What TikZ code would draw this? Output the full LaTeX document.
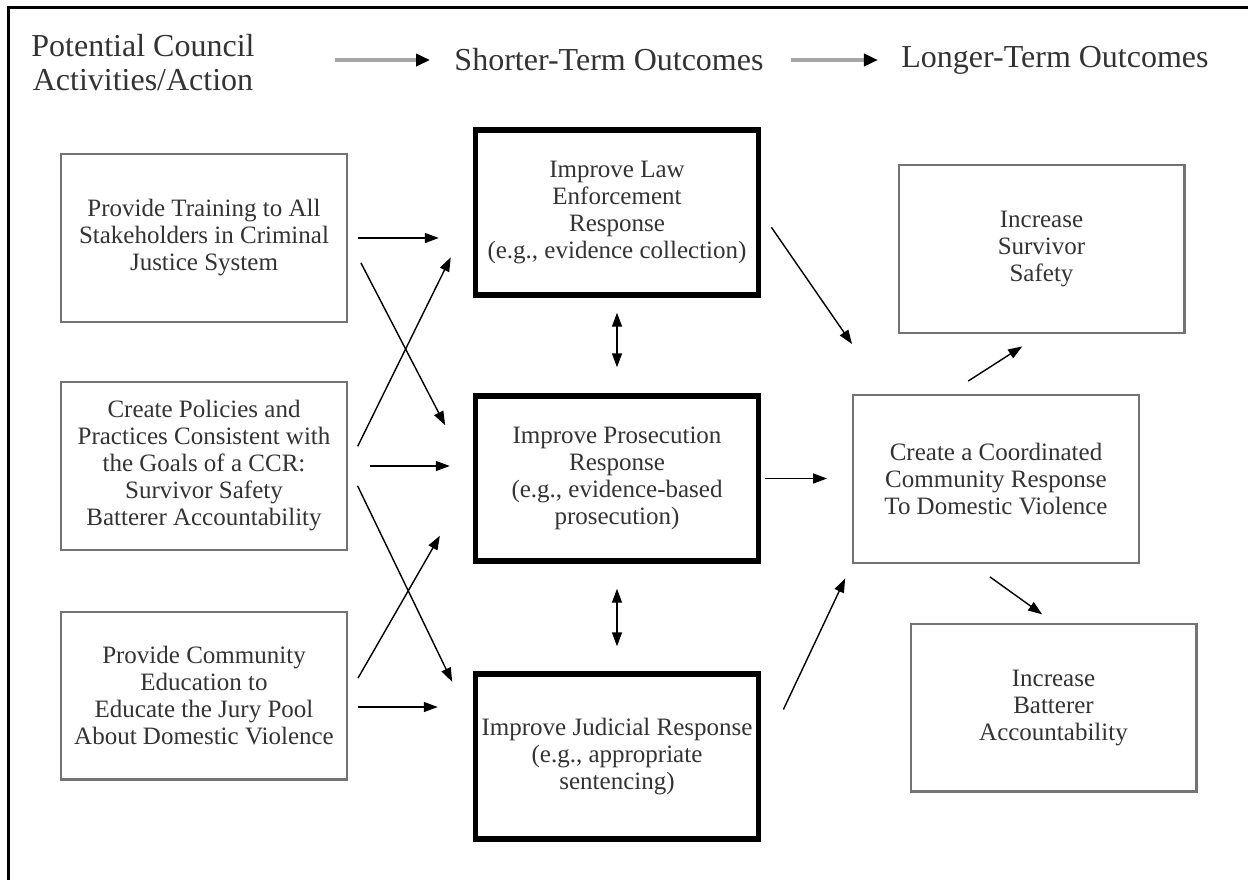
\documentclass[tikz,border=0pt]{standalone}
\usepackage{fontspec}
\setmainfont{Liberation Serif}
\usetikzlibrary{shapes,arrows.meta,calc}

\begin{document}
\begin{tikzpicture}[x=0.5pt,y=-0.5pt,
    block_plain/.style ={rectangle, draw=black!55, line width=1.2pt, fill=white,
      minimum width=142.8pt, minimum height=83.8pt, align=center, inner sep=2pt,
      text=black!80, font=\fontsize{12.5}{13.5}\selectfont},
    block_bold/.style ={block_plain, draw=black, line width=2.8pt,
      minimum width=141.4pt, minimum height=82.4pt},
    block_title/.style ={rectangle, draw=none, align=center, inner sep=0pt,
      text=black!80, font=\fontsize{16}{17}\selectfont},
    line/.style ={draw, line width=0.7pt, -{Triangle[length=7pt,width=5pt]}},
    line_both/.style ={line, {Triangle[length=7pt,width=5pt]}-{Triangle[length=7pt,width=5pt]}},
    line_title/.style ={draw=black!35, line width=2pt,
      -{Triangle[length=7pt,width=6pt,color=black]}}]
    \useasboundingbox (0,0) rectangle (1248,880);
    % frame
    \draw[line width=1.5pt] (8,880) -- (8,7) -- (1248,7);
    % column titles
    \node [block_title] (potential) at (143,63) {Potential Council\\Activities/Action};
    \node [block_title] (shorter) at (609,60) {Shorter-Term Outcomes};
    \node [block_title] (longer) at (1055,60) {Longer-Term Outcomes};
    % council activities
    \node [block_plain] (training) at (204,238) {Provide Training to All\\Stakeholders in Criminal\\Justice System};
    \node [block_plain] (policies) at (204,466) {Create Policies and\\Practices Consistent with\\the Goals of a CCR:\\Survivor Safety\\Batterer Accountability};
    \node [block_plain] (education) at (204,695.5) {Provide Community\\Education to\\Educate the Jury Pool\\About Domestic Violence};
    % shorter-term outcomes
    \node [block_bold] (law) at (617,212.5) {Improve Law\\Enforcement\\Response\\(e.g., evidence collection)};
    \node [block_bold] (prosecution) at (617,478.5) {Improve Prosecution\\Response\\(e.g., evidence-based\\prosecution)};
    \node [block_bold] (judicial) at (617,756.5) {Improve Judicial Response\\(e.g., appropriate\\sentencing)};
    % longer-term outcomes
    \node [block_plain] (ccr) at (996,479) {Create a Coordinated\\Community Response\\To Domestic Violence};
    \node [block_plain] (safety) at (1041.5,249) {Increase\\Survivor\\Safety};
    \node [block_plain] (accountability) at (1053.5,707.5) {Increase\\Batterer\\Accountability};
    % connecting nodes with paths
    \path[line_title, shorten <=40pt, shorten >=12pt] (shorter.west -| potential.east) -- (shorter.west);
    \path[line_title, shorten <=13.5pt, shorten >=11.5pt] (shorter.east) -- (longer.west);
    \begin{scope}[every path/.style=line]
      \path[shorten <=5pt, shorten >=17pt] (training.east) -- (training.east -| law.west);
      \path[shorten <=14pt, shorten >=30pt] (training.east) -- (prosecution.west);
      \path[shorten <=11pt, shorten >=25pt] (policies.east) -- (law.west);
      \path[shorten <=11pt, shorten >=11.5pt] (policies.east) -- (policies.east -| prosecution.west);
      \path[shorten <=11pt, shorten >=23.7pt] (policies.east) -- ([yshift=16pt]judicial.west);
      \path[shorten <=10pt, shorten >=33pt] (education.east) -- (prosecution.west);
      \path[shorten <=5pt, shorten >=17.5pt] ([yshift=-5.75pt]education.east) -- ([yshift=-5.75pt]education.east -| judicial.west);
      \path[line_both, shorten <=7.5pt, shorten >=13pt] (law.south) -- (prosecution.north);
      \path[line_both, shorten <=12.5pt, shorten >=12.5pt] (prosecution.south) -- (judicial.north);
      \path[shorten <=9pt] (law.east) -- ([yshift=25pt]ccr.north west);
      \path[shorten <=2pt, shorten >=12.5pt] (prosecution.east) -- (prosecution.east -| ccr.west);
      \path[shorten <=26pt, shorten >=8pt] (judicial.east) -- (ccr.south west);
      \path[shorten <=12pt, shorten >=11.5pt] ([xshift=-24pt]ccr.north) -- (safety.south);
      \path[shorten <=11pt, shorten >=7pt] ([xshift=-12pt]ccr.south) -- (accountability.north);
    \end{scope}
\end{tikzpicture}
\end{document}
